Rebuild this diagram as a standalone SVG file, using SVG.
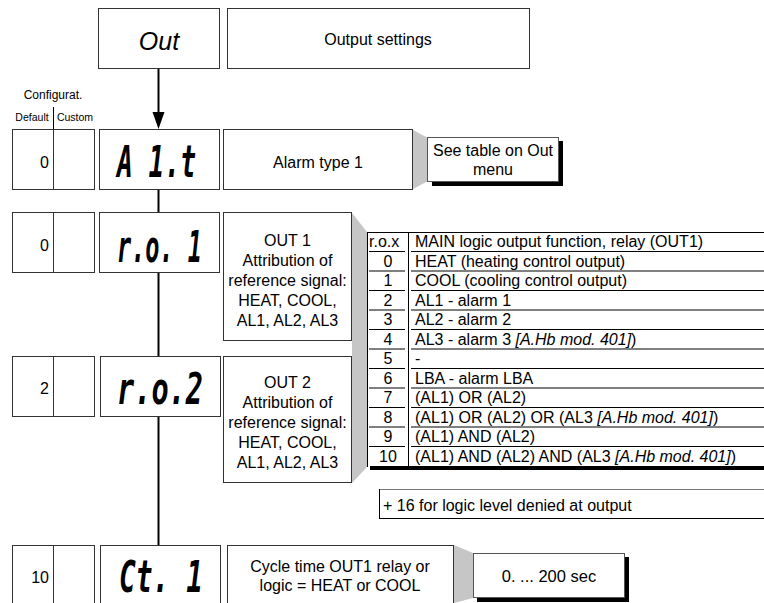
<svg xmlns="http://www.w3.org/2000/svg" width="764" height="603" viewBox="0 0 764 603">
<style>
.box{fill:#fff;stroke:#333;stroke-width:1}
.t{font-family:"Liberation Sans",Arial,Helvetica,sans-serif;font-size:16px;fill:#000}
.c{text-anchor:middle}
.e{text-anchor:end}
.i{font-style:italic}
.seg{font-family:"DejaVu Sans Mono",monospace;font-weight:bold;font-style:italic;font-size:44px;fill:#000}
.shade{fill:#c6c6c6}
.conn{stroke:#000;stroke-width:2;fill:none}
.rl{stroke:#000;stroke-width:1}
</style>
<defs>
<marker id="ah" markerWidth="12" markerHeight="17" refX="6" refY="17" orient="auto" markerUnits="userSpaceOnUse" viewBox="0 0 12 17">
<path d="M0,0 L12,0 L6,17 Z" fill="#000"/>
</marker>
</defs>
<rect width="764" height="603" fill="#fff"/>

<g id="connectors">
<line class="conn" x1="158.5" y1="68" x2="158.5" y2="112"/>
<path d="M152.5,112 L164.5,112 L158.5,129 Z" fill="#000"/>
<line class="conn" x1="158.5" y1="189" x2="158.5" y2="213"/>
<line class="conn" x1="158.5" y1="273" x2="158.5" y2="357"/>
<line class="conn" x1="158.5" y1="416" x2="158.5" y2="545"/>
</g>

<g id="out">
<rect class="box" x="98.5" y="8.5" width="121" height="60"/>
<text class="t c i" x="159" y="50" style="font-size:25px">Out</text>
</g>
<g id="out-desc">
<rect class="box" x="227.5" y="8.5" width="302" height="60"/>
<text class="t c" x="378" y="45">Output settings</text>
</g>

<g id="config-header">
<text class="t c" x="53" y="99" style="font-size:12px">Configurat.</text>
<text class="t c" x="32" y="121" style="font-size:10.5px">Default</text>
<text class="t c" x="75" y="121" style="font-size:10.5px">Custom</text>
<line x1="53.5" y1="107" x2="53.5" y2="130" stroke="#000" stroke-width="1"/>
</g>

<!-- Row 1 -->
<g id="cfg-a1t">
<rect class="box" x="12.5" y="129.5" width="82" height="60"/>
<line x1="53.5" y1="129.5" x2="53.5" y2="189.5" stroke="#333"/>
<text class="t e" x="49" y="167.5">0</text>
</g>
<g id="a1t">
<rect class="box" x="99.5" y="129.5" width="120" height="60"/>
<text class="seg" x="117" y="177" textLength="79" lengthAdjust="spacingAndGlyphs">A 1.t</text>
</g>
<g id="a1t-desc">
<rect class="box" x="223.5" y="129.5" width="189" height="60"/>
<text class="t c" x="318" y="167.5">Alarm type 1</text>
</g>
<g id="a1t-note">
<polygon class="shade" points="413,130 428,138 428,181 413,189"/>
<rect x="432" y="141" width="131" height="45" fill="#000"/>
<rect x="427.5" y="137.5" width="131" height="44" fill="#fff" stroke="#555"/>
<text class="t c" x="493" y="156">See table on Out</text>
<text class="t c" x="493" y="175">menu</text>
</g>

<!-- Row 2 -->
<g id="cfg-ro1">
<rect class="box" x="12.5" y="212.5" width="82" height="60"/>
<line x1="53.5" y1="212.5" x2="53.5" y2="272.5" stroke="#333"/>
<text class="t e" x="49" y="250.5">0</text>
</g>
<g id="ro1">
<rect class="box" x="99.5" y="212.5" width="120" height="60"/>
<text class="seg" x="117" y="262" textLength="85" lengthAdjust="spacingAndGlyphs">r.o. 1</text>
</g>
<g id="ro1-desc">
<rect class="box" x="223.5" y="212.5" width="128" height="128"/>
<text class="t c" x="287.5" y="245.5">OUT 1</text>
<text class="t c" x="287.5" y="265.5">Attribution of</text>
<text class="t c" x="287.5" y="285.5">reference signal:</text>
<text class="t c" x="287.5" y="305.5">HEAT, COOL,</text>
<text class="t c" x="287.5" y="325.5">AL1, AL2, AL3</text>
</g>

<!-- Row 3 -->
<g id="cfg-ro2">
<rect class="box" x="12.5" y="356.5" width="82" height="60"/>
<line x1="53.5" y1="356.5" x2="53.5" y2="416.5" stroke="#333"/>
<text class="t e" x="49" y="393.5">2</text>
</g>
<g id="ro2">
<rect class="box" x="100.5" y="356.5" width="120" height="60"/>
<text class="seg" x="117" y="404" textLength="86" lengthAdjust="spacingAndGlyphs">r.o.2</text>
</g>
<g id="ro2-desc">
<rect class="box" x="223.5" y="356.5" width="128" height="126"/>
<text class="t c" x="287.5" y="387.5">OUT 2</text>
<text class="t c" x="287.5" y="407.5">Attribution of</text>
<text class="t c" x="287.5" y="427.5">reference signal:</text>
<text class="t c" x="287.5" y="447.5">HEAT, COOL,</text>
<text class="t c" x="287.5" y="467.5">AL1, AL2, AL3</text>
</g>

<!-- Table -->
<g id="ro-table">
<polygon class="shade" points="352,213 367,232 367,467 352,483"/>
<rect x="367" y="232" width="397" height="234" fill="#fff"/>
<rect x="370" y="466" width="394" height="4" fill="#000"/>
<line class="rl" x1="367" y1="232.5" x2="764" y2="232.5"/>
<line class="rl" x1="367.5" y1="232" x2="367.5" y2="467"/>
<line class="rl" x1="408.5" y1="232" x2="408.5" y2="467"/>
<g class="rl">
<line x1="369" y1="251.5" x2="405" y2="251.5"/><line x1="411" y1="251.5" x2="764" y2="251.5"/>
<line x1="369" y1="271" x2="405" y2="271"/><line x1="411" y1="271" x2="764" y2="271"/>
<line x1="369" y1="290.5" x2="405" y2="290.5"/><line x1="411" y1="290.5" x2="764" y2="290.5"/>
<line x1="369" y1="310" x2="405" y2="310"/><line x1="411" y1="310" x2="764" y2="310"/>
<line x1="369" y1="329.5" x2="405" y2="329.5"/><line x1="411" y1="329.5" x2="764" y2="329.5"/>
<line x1="369" y1="349" x2="405" y2="349"/><line x1="411" y1="349" x2="764" y2="349"/>
<line x1="369" y1="368.5" x2="405" y2="368.5"/><line x1="411" y1="368.5" x2="764" y2="368.5"/>
<line x1="369" y1="388" x2="405" y2="388"/><line x1="411" y1="388" x2="764" y2="388"/>
<line x1="369" y1="407.5" x2="405" y2="407.5"/><line x1="411" y1="407.5" x2="764" y2="407.5"/>
<line x1="369" y1="427" x2="405" y2="427"/><line x1="411" y1="427" x2="764" y2="427"/>
<line x1="369" y1="446.5" x2="405" y2="446.5"/><line x1="411" y1="446.5" x2="764" y2="446.5"/>
</g>
<text class="t" x="369" y="247.3">r.o.x</text>
<text class="t c" x="388" y="266.8">0</text>
<text class="t c" x="388" y="286.3">1</text>
<text class="t c" x="388" y="305.8">2</text>
<text class="t c" x="388" y="325.3">3</text>
<text class="t c" x="388" y="344.8">4</text>
<text class="t c" x="388" y="364.3">5</text>
<text class="t c" x="388" y="383.8">6</text>
<text class="t c" x="388" y="403.3">7</text>
<text class="t c" x="388" y="422.8">8</text>
<text class="t c" x="388" y="442.3">9</text>
<text class="t c" x="388" y="461.8">10</text>
<text class="t" x="415" y="247.3">MAIN logic output function, relay (OUT1)</text>
<text class="t" x="415" y="266.8">HEAT (heating control output)</text>
<text class="t" x="415" y="286.3">COOL (cooling control output)</text>
<text class="t" x="415" y="305.8">AL1 - alarm 1</text>
<text class="t" x="415" y="325.3">AL2 - alarm 2</text>
<text class="t" x="415" y="344.8">AL3 - alarm 3 <tspan class="i">[A.Hb mod. 401]</tspan>)</text>
<text class="t" x="415" y="364.3">-</text>
<text class="t" x="415" y="383.8">LBA - alarm LBA</text>
<text class="t" x="415" y="403.3">(AL1) OR (AL2)</text>
<text class="t" x="415" y="422.8">(AL1) OR (AL2) OR (AL3 <tspan class="i">[A.Hb mod. 401]</tspan>)</text>
<text class="t" x="415" y="442.3">(AL1) AND (AL2)</text>
<text class="t" x="415" y="461.8">(AL1) AND (AL2) AND (AL3 <tspan class="i">[A.Hb mod. 401]</tspan>)</text>
</g>

<g id="plus16">
<line x1="379" y1="489.5" x2="764" y2="489.5" stroke="#777"/>
<line x1="379.5" y1="489" x2="379.5" y2="518" stroke="#000"/>
<line x1="379" y1="518.5" x2="764" y2="518.5" stroke="#000"/>
<text class="t" x="383" y="510.5">+ 16 for logic level denied at output</text>
</g>

<!-- Row 4 -->
<g id="cfg-ct1">
<rect class="box" x="12.5" y="545.5" width="82" height="70"/>
<line x1="53.5" y1="545.5" x2="53.5" y2="603" stroke="#333"/>
<text class="t e" x="49" y="583">10</text>
</g>
<g id="ct1">
<rect class="box" x="100.5" y="545.5" width="120" height="70"/>
<text class="seg" x="119" y="592" textLength="84" lengthAdjust="spacingAndGlyphs">Ct. 1</text>
</g>
<g id="ct1-desc">
<rect class="box" x="227.5" y="545.5" width="226" height="70"/>
<text class="t c" x="340" y="571.5">Cycle time OUT1 relay or</text>
<text class="t c" x="340" y="590.5">logic = HEAT or COOL</text>
</g>
<g id="ct1-note">
<polygon class="shade" points="454,545 473,553 473,598 454,603"/>
<rect x="477" y="557" width="152" height="45" fill="#000"/>
<rect x="473.5" y="553.5" width="151" height="44" fill="#fff" stroke="#555"/>
<text class="t c" x="549" y="582" style="font-size:16.5px">0. ... 200 sec</text>
</g>
</svg>
